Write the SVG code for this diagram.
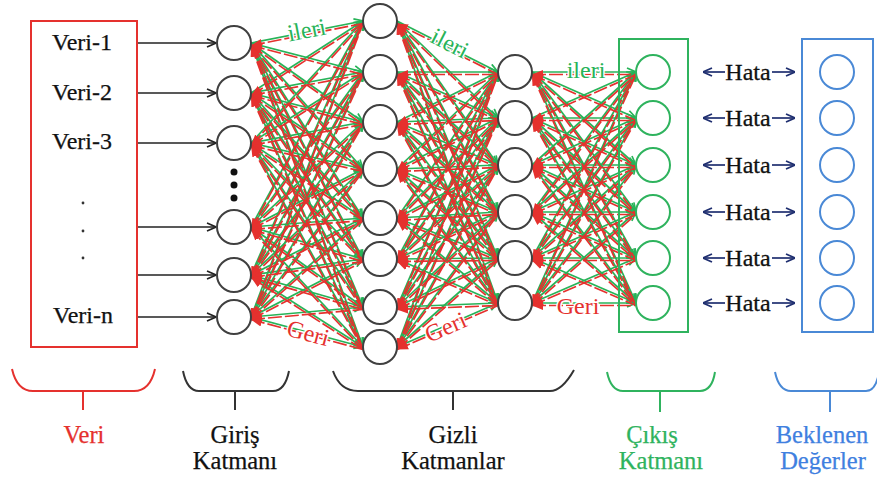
<svg xmlns="http://www.w3.org/2000/svg" width="877" height="478" viewBox="0 0 877 478" font-family="'Liberation Serif', 'Times New Roman', serif">
  <style>
    text { font-family: "Liberation Serif", "Times New Roman", serif; }
    .lbl { font-size: 24px; text-anchor: middle; fill: #111; stroke: currentColor; stroke-width: 0.25; }
    .cap { font-size: 24.5px; text-anchor: middle; fill: #111; stroke-width: 0.25; }
    .small { font-size: 24px; text-anchor: middle; }
    .node { fill: #fff; stroke: #404040; stroke-width: 2; }
    .onode { fill: #fff; stroke: #2fb35e; stroke-width: 2; }
    .enode { fill: #fff; stroke: #4a89d6; stroke-width: 2; }
    .fw path { fill: none; stroke: #27b358; stroke-width: 1.7; marker-end: url(#ag); }
    .bw path { fill: none; stroke: #e5312e; stroke-width: 1.7; stroke-dasharray: 14 3; marker-start: url(#ar); }
    .inp path { fill: none; stroke: #222; stroke-width: 1.6; marker-end: url(#ak); }
    .err path { fill: none; stroke: #1f2f70; stroke-width: 1.7; marker-end: url(#an); }
    .brace { fill: none; stroke-width: 2; }
    .halo { paint-order: stroke; stroke: #fff; stroke-width: 3; stroke-linejoin: round; }
  </style>
  <defs>
    <marker id="ag" viewBox="0 0 10 10" refX="10" refY="5" markerWidth="10" markerHeight="10" markerUnits="userSpaceOnUse" orient="auto">
      <path d="M1 1L10 5L1 9" fill="none" stroke="#27b358" stroke-width="1.7"/>
    </marker>
    <marker id="ar" viewBox="0 0 10 10" refX="10" refY="5" markerWidth="11" markerHeight="11" markerUnits="userSpaceOnUse" orient="auto-start-reverse">
      <path d="M0 1L10 5L0 9z" fill="#e5312e"/>
    </marker>
    <marker id="ak" viewBox="0 0 10 10" refX="10" refY="5" markerWidth="10" markerHeight="10" markerUnits="userSpaceOnUse" orient="auto">
      <path d="M1 1L10 5L1 9" fill="none" stroke="#222" stroke-width="1.6"/>
    </marker>
    <marker id="an" viewBox="0 0 10 10" refX="10" refY="5" markerWidth="10" markerHeight="10" markerUnits="userSpaceOnUse" orient="auto">
      <path d="M1 1L10 5L1 9" fill="none" stroke="#1f2f70" stroke-width="1.7"/>
    </marker>
  </defs>

  <!-- connectors -->
  <g id="connectors">
    <g class="inp">
      <path d="M137 43H216"/><path d="M137 93H216"/><path d="M137 143H216"/>
      <path d="M137 227H216"/><path d="M137 275H216"/><path d="M137 317H216"/>
    </g>
    <!-- forward pass: input -> hidden 1 -->
    <g class="fw">
      <path d="M251 43L363 21"/><path d="M251 43L363 72"/><path d="M251 43L363 122"/><path d="M251 43L363 169"/><path d="M251 43L363 218"/><path d="M251 43L363 259"/><path d="M251 43L363 307"/><path d="M251 43L363 347"/>
      <path d="M251 93L363 21"/><path d="M251 93L363 72"/><path d="M251 93L363 122"/><path d="M251 93L363 169"/><path d="M251 93L363 218"/><path d="M251 93L363 259"/><path d="M251 93L363 307"/><path d="M251 93L363 347"/>
      <path d="M251 143L363 21"/><path d="M251 143L363 72"/><path d="M251 143L363 122"/><path d="M251 143L363 169"/><path d="M251 143L363 218"/><path d="M251 143L363 259"/><path d="M251 143L363 307"/><path d="M251 143L363 347"/>
      <path d="M251 227L363 21"/><path d="M251 227L363 72"/><path d="M251 227L363 122"/><path d="M251 227L363 169"/><path d="M251 227L363 218"/><path d="M251 227L363 259"/><path d="M251 227L363 307"/><path d="M251 227L363 347"/>
      <path d="M251 275L363 21"/><path d="M251 275L363 72"/><path d="M251 275L363 122"/><path d="M251 275L363 169"/><path d="M251 275L363 218"/><path d="M251 275L363 259"/><path d="M251 275L363 307"/><path d="M251 275L363 347"/>
      <path d="M251 317L363 21"/><path d="M251 317L363 72"/><path d="M251 317L363 122"/><path d="M251 317L363 169"/><path d="M251 317L363 218"/><path d="M251 317L363 259"/><path d="M251 317L363 307"/><path d="M251 317L363 347"/>
    </g>
    <!-- forward pass: hidden 1 -> hidden 2 -->
    <g class="fw">
      <path d="M397 21L498 72"/><path d="M397 21L498 118"/><path d="M397 21L498 165"/><path d="M397 21L498 212"/><path d="M397 21L498 258"/><path d="M397 21L498 303"/>
      <path d="M397 72L498 72"/><path d="M397 72L498 118"/><path d="M397 72L498 165"/><path d="M397 72L498 212"/><path d="M397 72L498 258"/><path d="M397 72L498 303"/>
      <path d="M397 122L498 72"/><path d="M397 122L498 118"/><path d="M397 122L498 165"/><path d="M397 122L498 212"/><path d="M397 122L498 258"/><path d="M397 122L498 303"/>
      <path d="M397 169L498 72"/><path d="M397 169L498 118"/><path d="M397 169L498 165"/><path d="M397 169L498 212"/><path d="M397 169L498 258"/><path d="M397 169L498 303"/>
      <path d="M397 218L498 72"/><path d="M397 218L498 118"/><path d="M397 218L498 165"/><path d="M397 218L498 212"/><path d="M397 218L498 258"/><path d="M397 218L498 303"/>
      <path d="M397 259L498 72"/><path d="M397 259L498 118"/><path d="M397 259L498 165"/><path d="M397 259L498 212"/><path d="M397 259L498 258"/><path d="M397 259L498 303"/>
      <path d="M397 307L498 72"/><path d="M397 307L498 118"/><path d="M397 307L498 165"/><path d="M397 307L498 212"/><path d="M397 307L498 258"/><path d="M397 307L498 303"/>
      <path d="M397 347L498 72"/><path d="M397 347L498 118"/><path d="M397 347L498 165"/><path d="M397 347L498 212"/><path d="M397 347L498 258"/><path d="M397 347L498 303"/>
    </g>
    <!-- forward pass: hidden 2 -> output -->
    <g class="fw">
      <path d="M532 72L636 72"/><path d="M532 72L636 118"/><path d="M532 72L636 165"/><path d="M532 72L636 212"/><path d="M532 72L636 258"/><path d="M532 72L636 303"/>
      <path d="M532 118L636 72"/><path d="M532 118L636 118"/><path d="M532 118L636 165"/><path d="M532 118L636 212"/><path d="M532 118L636 258"/><path d="M532 118L636 303"/>
      <path d="M532 165L636 72"/><path d="M532 165L636 118"/><path d="M532 165L636 165"/><path d="M532 165L636 212"/><path d="M532 165L636 258"/><path d="M532 165L636 303"/>
      <path d="M532 212L636 72"/><path d="M532 212L636 118"/><path d="M532 212L636 165"/><path d="M532 212L636 212"/><path d="M532 212L636 258"/><path d="M532 212L636 303"/>
      <path d="M532 258L636 72"/><path d="M532 258L636 118"/><path d="M532 258L636 165"/><path d="M532 258L636 212"/><path d="M532 258L636 258"/><path d="M532 258L636 303"/>
      <path d="M532 303L636 72"/><path d="M532 303L636 118"/><path d="M532 303L636 165"/><path d="M532 303L636 212"/><path d="M532 303L636 258"/><path d="M532 303L636 303"/>
    </g>
    <!-- backward pass (arrowheads at the left end), shifted slightly below -->
    <g class="bw" transform="translate(0,2.5)">
      <path d="M251 43L363 21"/><path d="M251 43L363 72"/><path d="M251 43L363 122"/><path d="M251 43L363 169"/><path d="M251 43L363 218"/><path d="M251 43L363 259"/><path d="M251 43L363 307"/><path d="M251 43L363 347"/>
      <path d="M251 93L363 21"/><path d="M251 93L363 72"/><path d="M251 93L363 122"/><path d="M251 93L363 169"/><path d="M251 93L363 218"/><path d="M251 93L363 259"/><path d="M251 93L363 307"/><path d="M251 93L363 347"/>
      <path d="M251 143L363 21"/><path d="M251 143L363 72"/><path d="M251 143L363 122"/><path d="M251 143L363 169"/><path d="M251 143L363 218"/><path d="M251 143L363 259"/><path d="M251 143L363 307"/><path d="M251 143L363 347"/>
      <path d="M251 227L363 21"/><path d="M251 227L363 72"/><path d="M251 227L363 122"/><path d="M251 227L363 169"/><path d="M251 227L363 218"/><path d="M251 227L363 259"/><path d="M251 227L363 307"/><path d="M251 227L363 347"/>
      <path d="M251 275L363 21"/><path d="M251 275L363 72"/><path d="M251 275L363 122"/><path d="M251 275L363 169"/><path d="M251 275L363 218"/><path d="M251 275L363 259"/><path d="M251 275L363 307"/><path d="M251 275L363 347"/>
      <path d="M251 317L363 21"/><path d="M251 317L363 72"/><path d="M251 317L363 122"/><path d="M251 317L363 169"/><path d="M251 317L363 218"/><path d="M251 317L363 259"/><path d="M251 317L363 307"/><path d="M251 317L363 347"/>

      <path d="M397 21L498 72"/><path d="M397 21L498 118"/><path d="M397 21L498 165"/><path d="M397 21L498 212"/><path d="M397 21L498 258"/><path d="M397 21L498 303"/>
      <path d="M397 72L498 72"/><path d="M397 72L498 118"/><path d="M397 72L498 165"/><path d="M397 72L498 212"/><path d="M397 72L498 258"/><path d="M397 72L498 303"/>
      <path d="M397 122L498 72"/><path d="M397 122L498 118"/><path d="M397 122L498 165"/><path d="M397 122L498 212"/><path d="M397 122L498 258"/><path d="M397 122L498 303"/>
      <path d="M397 169L498 72"/><path d="M397 169L498 118"/><path d="M397 169L498 165"/><path d="M397 169L498 212"/><path d="M397 169L498 258"/><path d="M397 169L498 303"/>
      <path d="M397 218L498 72"/><path d="M397 218L498 118"/><path d="M397 218L498 165"/><path d="M397 218L498 212"/><path d="M397 218L498 258"/><path d="M397 218L498 303"/>
      <path d="M397 259L498 72"/><path d="M397 259L498 118"/><path d="M397 259L498 165"/><path d="M397 259L498 212"/><path d="M397 259L498 258"/><path d="M397 259L498 303"/>
      <path d="M397 307L498 72"/><path d="M397 307L498 118"/><path d="M397 307L498 165"/><path d="M397 307L498 212"/><path d="M397 307L498 258"/><path d="M397 307L498 303"/>
      <path d="M397 347L498 72"/><path d="M397 347L498 118"/><path d="M397 347L498 165"/><path d="M397 347L498 212"/><path d="M397 347L498 258"/><path d="M397 347L498 303"/>

      <path d="M532 72L636 72"/><path d="M532 72L636 118"/><path d="M532 72L636 165"/><path d="M532 72L636 212"/><path d="M532 72L636 258"/><path d="M532 72L636 303"/>
      <path d="M532 118L636 72"/><path d="M532 118L636 118"/><path d="M532 118L636 165"/><path d="M532 118L636 212"/><path d="M532 118L636 258"/><path d="M532 118L636 303"/>
      <path d="M532 165L636 72"/><path d="M532 165L636 118"/><path d="M532 165L636 165"/><path d="M532 165L636 212"/><path d="M532 165L636 258"/><path d="M532 165L636 303"/>
      <path d="M532 212L636 72"/><path d="M532 212L636 118"/><path d="M532 212L636 165"/><path d="M532 212L636 212"/><path d="M532 212L636 258"/><path d="M532 212L636 303"/>
      <path d="M532 258L636 72"/><path d="M532 258L636 118"/><path d="M532 258L636 165"/><path d="M532 258L636 212"/><path d="M532 258L636 258"/><path d="M532 258L636 303"/>
      <path d="M532 303L636 72"/><path d="M532 303L636 118"/><path d="M532 303L636 165"/><path d="M532 303L636 212"/><path d="M532 303L636 258"/><path d="M532 303L636 303"/>
    </g>
    <!-- error arrows between output and expected values -->
    <g class="err">
      <path d="M725 72H703"/><path d="M772 72H795"/>
      <path d="M725 118H703"/><path d="M772 118H795"/>
      <path d="M725 165H703"/><path d="M772 165H795"/>
      <path d="M725 212H703"/><path d="M772 212H795"/>
      <path d="M725 258H703"/><path d="M772 258H795"/>
      <path d="M725 303H703"/><path d="M772 303H795"/>
    </g>
    <!-- pass labels -->
    <g class="small halo" fill="#27b358">
      <text transform="translate(307,32) rotate(-11)" dy="6">ileri</text>
      <text transform="translate(449,45) rotate(27)" dy="6">ileri</text>
      <text transform="translate(586,72)" dy="6">ileri</text>
    </g>
    <g class="small halo" fill="#e5312e">
      <text transform="translate(308,334) rotate(15)" dy="7">Geri</text>
      <text transform="translate(446,328) rotate(-23.5)" dy="7">Geri</text>
      <text transform="translate(578,307)" dy="7">Geri</text>
    </g>
  </g>

  <!-- data block -->
  <g id="veri">
    <rect x="31" y="21" width="106" height="326" fill="none" stroke="#e5312e" stroke-width="2"/>
    <g class="lbl" style="color:#111">
      <text x="82" y="50">Veri-1</text>
      <text x="82" y="100">Veri-2</text>
      <text x="82" y="149">Veri-3</text>
      <text x="83" y="323">Veri-n</text>
    </g>
    <circle cx="83" cy="203" r="1.4" fill="#333"/>
    <circle cx="83" cy="231" r="1.4" fill="#333"/>
    <circle cx="83" cy="258" r="1.4" fill="#333"/>
  </g>

  <!-- input layer -->
  <g id="giris">
    <g id="g1"><circle class="node" cx="234" cy="43" r="17"/></g>
    <g id="g2"><circle class="node" cx="234" cy="93" r="17"/></g>
    <g id="g3"><circle class="node" cx="234" cy="143" r="17"/></g>
    <g id="g-dots" fill="#111">
      <circle cx="234" cy="172" r="3.5"/><circle cx="234" cy="185" r="3.5"/><circle cx="234" cy="198" r="3.5"/>
    </g>
    <g id="g4"><circle class="node" cx="234" cy="227" r="17"/></g>
    <g id="g5"><circle class="node" cx="234" cy="275" r="17"/></g>
    <g id="g6"><circle class="node" cx="234" cy="317" r="17"/></g>
  </g>

  <!-- hidden layer 1 -->
  <g id="gizli1">
    <g id="h1-1"><circle class="node" cx="380" cy="21" r="17"/></g>
    <g id="h1-2"><circle class="node" cx="380" cy="72" r="17"/></g>
    <g id="h1-3"><circle class="node" cx="380" cy="122" r="17"/></g>
    <g id="h1-4"><circle class="node" cx="380" cy="169" r="17"/></g>
    <g id="h1-5"><circle class="node" cx="380" cy="218" r="17"/></g>
    <g id="h1-6"><circle class="node" cx="380" cy="259" r="17"/></g>
    <g id="h1-7"><circle class="node" cx="380" cy="307" r="17"/></g>
    <g id="h1-8"><circle class="node" cx="380" cy="347" r="17"/></g>
  </g>

  <!-- hidden layer 2 -->
  <g id="gizli2">
    <g id="h2-1"><circle class="node" cx="515" cy="72" r="17"/></g>
    <g id="h2-2"><circle class="node" cx="515" cy="118" r="17"/></g>
    <g id="h2-3"><circle class="node" cx="515" cy="165" r="17"/></g>
    <g id="h2-4"><circle class="node" cx="515" cy="212" r="17"/></g>
    <g id="h2-5"><circle class="node" cx="515" cy="258" r="17"/></g>
    <g id="h2-6"><circle class="node" cx="515" cy="303" r="17"/></g>
  </g>

  <!-- output layer -->
  <g id="cikis">
    <rect x="619" y="39" width="69" height="293" fill="none" stroke="#2fb35e" stroke-width="2"/>
    <g id="o1"><circle class="onode" cx="653" cy="72" r="17"/></g>
    <g id="o2"><circle class="onode" cx="653" cy="118" r="17"/></g>
    <g id="o3"><circle class="onode" cx="653" cy="165" r="17"/></g>
    <g id="o4"><circle class="onode" cx="653" cy="212" r="17"/></g>
    <g id="o5"><circle class="onode" cx="653" cy="258" r="17"/></g>
    <g id="o6"><circle class="onode" cx="653" cy="303" r="17"/></g>
  </g>

  <!-- error labels -->
  <g id="hata" class="small" fill="#111" stroke="#111" stroke-width="0.3">
    <text x="748" y="80">Hata</text>
    <text x="748" y="126">Hata</text>
    <text x="748" y="173">Hata</text>
    <text x="748" y="220">Hata</text>
    <text x="748" y="266">Hata</text>
    <text x="748" y="311">Hata</text>
  </g>

  <!-- expected values -->
  <g id="beklenen">
    <rect x="802" y="39" width="71" height="293" fill="none" stroke="#4a89d6" stroke-width="2"/>
    <g id="e1"><circle class="enode" cx="837" cy="72" r="17"/></g>
    <g id="e2"><circle class="enode" cx="837" cy="118" r="17"/></g>
    <g id="e3"><circle class="enode" cx="837" cy="165" r="17"/></g>
    <g id="e4"><circle class="enode" cx="837" cy="212" r="17"/></g>
    <g id="e5"><circle class="enode" cx="837" cy="258" r="17"/></g>
    <g id="e6"><circle class="enode" cx="837" cy="303" r="17"/></g>
  </g>

  <!-- braces and captions -->
  <g id="cap-veri">
    <path class="brace" stroke="#e5312e" d="M12 369Q17 391 33 391H134Q150 391 155 369M83 391V410"/>
    <text class="cap" x="84" y="443" style="fill:#e5312e;stroke:#e5312e">Veri</text>
  </g>
  <g id="cap-giris">
    <path class="brace" stroke="#333" d="M183 371Q187 391 199 391H273Q285 391 289 371M235 391V410"/>
    <text class="cap" x="235" y="443" style="stroke:#111">Giriş</text>
    <text class="cap" x="235" y="469" style="stroke:#111">Katmanı</text>
  </g>
  <g id="cap-gizli">
    <path class="brace" stroke="#333" d="M333 371Q340 391 358 391H550Q562 391 574 370M453 391V410"/>
    <text class="cap" x="453" y="443" style="stroke:#111">Gizli</text>
    <text class="cap" x="453" y="469" style="stroke:#111">Katmanlar</text>
  </g>
  <g id="cap-cikis">
    <path class="brace" stroke="#2fb35e" d="M607 372Q611 391 623 391H700Q712 391 715 372M660 391V412"/>
    <text class="cap" x="652" y="443" style="fill:#2fb35e;stroke:#2fb35e">Çıkış</text>
    <text class="cap" x="661" y="469" style="fill:#2fb35e;stroke:#2fb35e">Katmanı</text>
  </g>
  <g id="cap-beklenen">
    <path class="brace" stroke="#4a89d6" d="M775 372Q779 391 791 391H866Q876 391 879 372M830 391V412"/>
    <text class="cap" x="822" y="443" style="fill:#3f80e0;stroke:#3f80e0">Beklenen</text>
    <text class="cap" x="823" y="469" style="fill:#3f80e0;stroke:#3f80e0">Değerler</text>
  </g>
</svg>
